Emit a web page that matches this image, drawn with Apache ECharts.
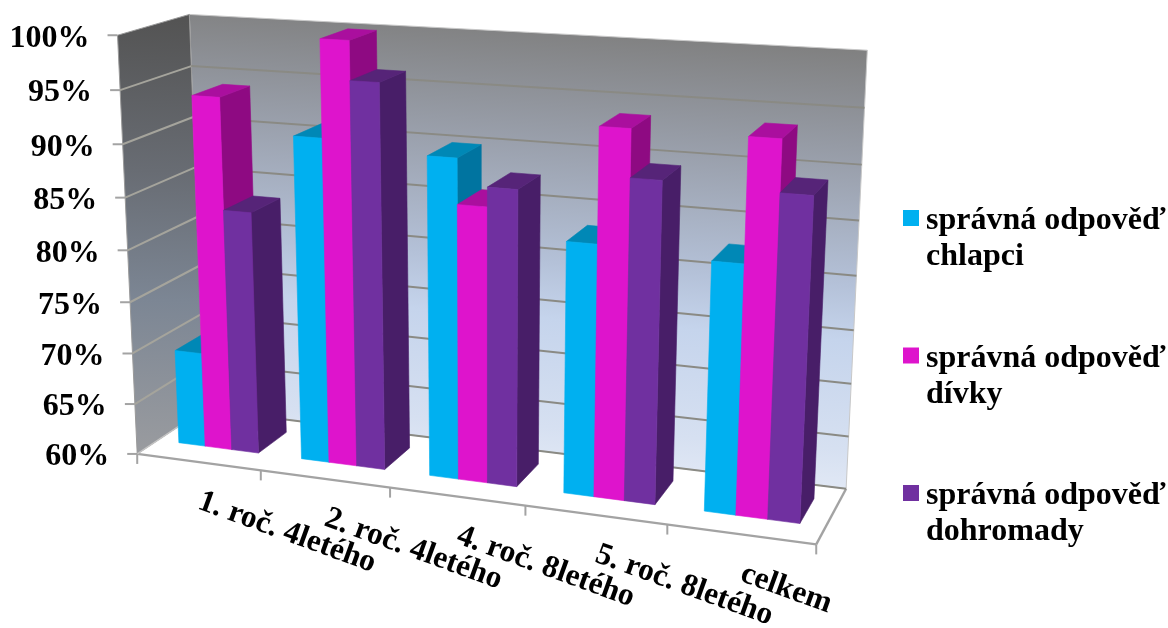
<!DOCTYPE html>
<html><head><meta charset="utf-8">
<style>html,body{margin:0;padding:0;background:#fff}#c{width:1168px;height:628px}</style>
<script src="https://cdn.jsdelivr.net/npm/echarts@6/dist/echarts.min.js"></script>
</head><body><div id="c"></div>
<script>
var categories = ['1. roč. 4letého','2. roč. 4letého','4. roč. 8letého','5. roč. 8letého','celkem'];
var yTicks = [60,65,70,75,80,85,90,95,100];
var yTickLabels = ['60%','65%','70%','75%','80%','85%','90%','95%','100%'];
var seriesNames = ['správná odpověď chlapci','správná odpověď dívky','správná odpověď dohromady'];
var legendLines = [['správná odpověď','chlapci'],['správná odpověď','dívky'],['správná odpověď','dohromady']];
var chlapci = [69.3,91,90.1,83.4,82.8];
var divky = [94.1,100,85.9,93.8,93.8];
var dohromady = [83.5,96.4,87.7,89.5,89.2];

var FONT = 'bold 32px "Liberation Serif"';
var faces = [
  {front:'#00b0f0',side:'#0074a0',top:'#0088b6'},
  {front:'#de14cc',side:'#8e0a82',top:'#aa0f9e'},
  {front:'#7030a0',side:'#481e68',top:'#562478'}
];
/* camera fit: unit box (u right, v up, w back) to screen */
var fit = [
 [0,0,0,138,453],[0,1,0,117,35],[1,0,0,816,544],
 [0,0,1,203,410],[0,1,1,190,15],[1,0,1,847,488],[1,1,1,867,50],
 [0,.125,0,135.5,403],[0,.25,0,132.8,353],[0,.375,0,130.3,302],[0,.5,0,127.7,250],
 [0,.625,0,125,198],[0,.75,0,122.4,144],[0,.875,0,119.8,90],
 [1,.125,1,848.5,436],[1,.25,1,851,383],[1,.375,1,853.5,330],[1,.5,1,856.5,276],
 [1,.625,1,859,221],[1,.75,1,862,165],[1,.875,1,865,108],
 [.2,0,0,261,471],[.4,0,0,390,490],[.6,0,0,525,506],[.8,0,0,667,525]
];
function solveCam(){
  var A=[],b=[];
  fit.forEach(function(p){
    var X=p[0],Y=p[1],Z=p[2],x=p[3]/1000,y=p[4]/1000;
    A.push([X,Y,Z,1,0,0,0,0,-x*X,-x*Y,-x*Z]);b.push(x);
    A.push([0,0,0,0,X,Y,Z,1,-y*X,-y*Y,-y*Z]);b.push(y);
  });
  var n=11,M=[],i,j,k;
  for(i=0;i<n;i++){M[i]=[];for(j=0;j<=n;j++){var s=0;for(k=0;k<A.length;k++)s+=A[k][i]*(j<n?A[k][j]:b[k]);M[i][j]=s;}}
  for(i=0;i<n;i++){var m=i;for(k=i+1;k<n;k++)if(Math.abs(M[k][i])>Math.abs(M[m][i]))m=k;
    var t=M[i];M[i]=M[m];M[m]=t;
    for(k=0;k<n;k++){if(k===i)continue;var f=M[k][i]/M[i][i];for(j=i;j<=n;j++)M[k][j]-=f*M[i][j];}}
  var p=[];for(i=0;i<n;i++)p[i]=M[i][n]/M[i][i];
  return p;
}
var P=solveCam();
function proj(u,v,w){
  var d=P[8]*u+P[9]*v+P[10]*w+1;
  return [1000*(P[0]*u+P[1]*v+P[2]*w+P[3])/d,1000*(P[4]*u+P[5]*v+P[6]*w+P[7])/d];
}
function poly(pts,fill,stroke,lw){
  return {type:'polygon',shape:{points:pts},style:{fill:fill,stroke:stroke||fill,lineWidth:lw===undefined?0.6:lw}};
}
function line(a,b,c,w){
  return {type:'line',shape:{x1:a[0],y1:a[1],x2:b[0],y2:b[1]},style:{stroke:c,lineWidth:w||2,fill:null}};
}
function unit(params,api,cat,val){
  var cs=params.coordSys,c=api.coord([cat,val]);
  return [(c[0]-cs.x)/cs.width,(cs.y+cs.height-c[1])/cs.height];
}
function grad(x,y,x2,y2,stops){
  return {type:'linear',global:true,x:x,y:y,x2:x2,y2:y2,colorStops:stops.map(function(s){return {offset:s[0],color:s[1]};})};
}
var wallSeries={type:'custom',name:'walls',silent:true,z:1,data:[[0,60]],encode:{x:0,y:1},
 renderItem:function(){
  var back=[proj(0,0,1),proj(1,0,1),proj(1,1,1),proj(0,1,1)];
  var left=[proj(0,0,0),proj(0,0,1),proj(0,1,1),proj(0,1,0)];
  var floor=[proj(0,0,0),proj(1,0,0),proj(1,0,1),proj(0,0,1)];
  return {type:'group',children:[
   poly(floor,'#ffffff','#ffffff',0),
   poly(back,grad(540,25,505,495,[[0,'#808080'],[.25,'#9aa0ac'],[.5,'#b4c1d8'],[.62,'#c5d4ec'],[.85,'#d6e0f1'],[1,'#e9eef8']]),'#c8c8c8',1),
   poly(left,grad(160,20,140,450,[[0,'#545454'],[.35,'#686c73'],[.65,'#7c8694'],[1,'#999b9f']]),'#9a9a9a',1),
   line(proj(0,0,0),proj(1,0,0),'#a3a3a3',2.4),
   line(proj(1,0,0),proj(1,0,1),'#a3a3a3',2.4),
   line(proj(0,0,0),proj(0,0,1),'#c4c4c4',1.5),
   line(proj(0,0,1),proj(1,0,1),'#8a8a84',2)
  ]};
 }};
var gridSeries={type:'custom',name:'yTicks',silent:true,z:2,
 data:yTicks.map(function(v,i){return [0,v,yTickLabels[i]];}),encode:{x:0,y:1},
 renderItem:function(params,api){
  var cs=params.coordSys;
  var v=(cs.y+cs.height-api.coord([0,api.value(1)])[1])/cs.height;
  var a=proj(0,v,0),b=proj(0,v,1),c=proj(1,v,1);
  var kids=[line([a[0]-10,a[1]],a,'#a3a3a3',2),
    {type:'text',x:a[0]-28,y:a[1]+3,style:{text:yTickLabels[params.dataIndex],font:FONT,fill:'#000',align:'right',verticalAlign:'middle'}}];
  if(v>0&&v<1){kids.push(line(a,b,'#a5a49c',2));kids.push(line(b,c,'#8a8a84',2));}
  return {type:'group',children:kids};
 }};
var catSeries={type:'custom',name:'categories',silent:true,z:2,
 data:categories.map(function(n,i){return [i,60];}),encode:{x:0,y:1},
 renderItem:function(params,api){
  var i=params.dataIndex,un=unit(params,api,i,60),half=api.size([1,0])[0]/params.coordSys.width/2;
  var t=proj(un[0]+half,0,0),m=proj(un[0],0,0),kids=[];
  kids.push(line(t,[t[0],t[1]+10],'#a3a3a3',2));
  if(i===0){var o=proj(0,0,0);kids.push(line(o,[o[0],o[1]+10],'#a3a3a3',2));}
  kids.push({type:'text',x:m[0]+1,y:m[1]+38.5,rotation:-20*Math.PI/180,
    style:{text:categories[i],font:'bold 31.5px "Liberation Serif"',fill:'#000',align:'left',verticalAlign:'middle'}});
  return {type:'group',children:kids};
 }};
var W0=.30,W1=.75,BAR=.218,GAP0=.173;
function barSeries(idx,data){
 return {type:'custom',name:seriesNames[idx],z:5,silent:true,
  itemStyle:{color:faces[idx].front},
  data:data.map(function(v,i){return [i,v];}),encode:{x:0,y:1},
  renderItem:function(params,api){
   var cat=api.value(0),val=api.value(1),un=unit(params,api,cat,val);
   var bw=api.size([1,0])[0]/params.coordSys.width;
   var u0=un[0]-bw/2+bw*(GAP0+idx*BAR),u1=u0+bw*BAR,v=un[1];
   var f=faces[idx];
   return {type:'group',children:[
    poly([proj(u1,0,W0),proj(u1,0,W1),proj(u1,v,W1),proj(u1,v,W0)],f.side),
    poly([proj(u0,v,W0),proj(u1,v,W0),proj(u1,v,W1),proj(u0,v,W1)],f.top),
    poly([proj(u0,0,W0),proj(u1,0,W0),proj(u1,v,W0),proj(u0,v,W0)],f.front)
   ]};
  }};
}
var legendText={fontFamily:'"Liberation Serif"',fontWeight:'bold',fontSize:32,lineHeight:36,color:'#000'};
var chart=echarts.init(document.getElementById('c'),null,{renderer:'canvas'});
chart.setOption({
 animation:false,
 backgroundColor:'#fff',
 grid:{left:100,right:100,top:100,bottom:100},
 xAxis:{type:'category',data:categories,show:false},
 yAxis:{type:'value',min:60,max:100,interval:5,show:false},
 legend:{orient:'vertical',left:903,top:161,padding:0,itemWidth:16,itemHeight:16,itemGap:25.5,icon:'rect',
  data:seriesNames,selectedMode:false,
  formatter:function(n){var l=legendLines[seriesNames.indexOf(n)];return '{s| }\n{t|'+l[0]+'}\n{t|'+l[1]+'}';},
  textStyle:{fontFamily:'"Liberation Serif"',fontWeight:'bold',fontSize:32,color:'#000',padding:[0,0,0,2],
    rich:{s:{fontSize:10,lineHeight:42,height:42},t:legendText}}},
 series:[wallSeries,gridSeries,catSeries,barSeries(0,chlapci),barSeries(1,divky),barSeries(2,dohromady)]
});
</script></body></html>
